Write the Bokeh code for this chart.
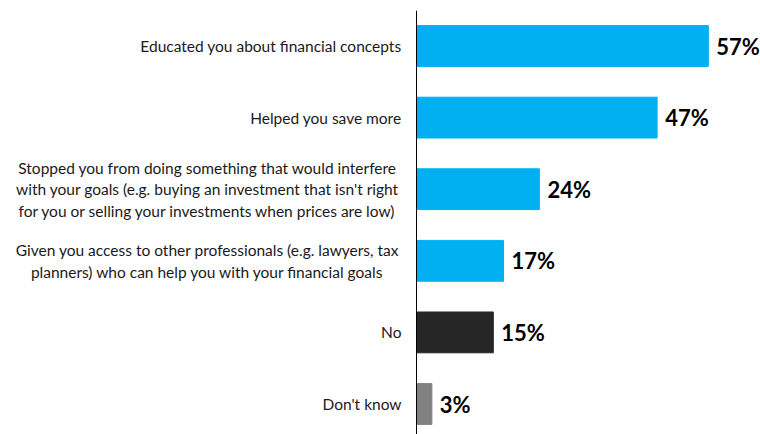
from bokeh.plotting import figure
from bokeh.models import Range1d, Span, ColumnDataSource
from bokeh.core.properties import value
from bokeh.embed import file_html
from bokeh.resources import INLINE

categories = [
    "Educated you about financial concepts",
    "Helped you save more",
    "Stopped you from doing something that would interfere\nwith your goals (e.g. buying an investment that isn't right\nfor you or selling your investments when prices are low)",
    "Given you access to other professionals (e.g. lawyers, tax\nplanners) who can help you with your financial goals",
    "No",
    "Don't know",
]
values = [57, 47, 24, 17, 15, 3]
value_labels = ["57%", "47%", "24%", "17%", "15%", "3%"]
colors = ["#00B0F0", "#00B0F0", "#00B0F0", "#00B0F0", "#262626", "#808080"]

W, H = 760, 434
px_per_unit = 5.12
axis_px = 416
row_px = 71.6
top_px = 10
first_center_off = 35.5

ypos = list(range(len(categories)))
y_top = -first_center_off / row_px
y_bot = y_top + (H - top_px) / row_px

p = figure(width=W, height=H, output_backend="svg", toolbar_location=None,
           x_range=Range1d(-axis_px / px_per_unit, (W - axis_px) / px_per_unit),
           y_range=Range1d(y_bot, y_top),
           min_border_left=0, min_border_right=0, min_border_top=top_px, min_border_bottom=0)
p.axis.visible = False
p.grid.visible = False
p.outline_line_color = None
p.background_fill_color = "white"
p.border_fill_color = "white"

src = ColumnDataSource(dict(y=ypos, v=values, lab=value_labels, c=colors, cat=categories))
p.hbar(y="y", left=0, right="v", height=0.57, color="c", source=src)

p.add_layout(Span(location=0, dimension="height", line_color="black", line_width=1))

p.text(x="v", y="y", text="lab", source=src, x_offset=8, text_baseline="middle",
       text_align="left", text_font=value("Lato"), text_font_style="bold",
       text_font_size="22px", text_color="black")

single = [i for i, c in enumerate(categories) if "\n" not in c]
multi = [i for i, c in enumerate(categories) if "\n" in c]

s1 = ColumnDataSource(dict(y=[ypos[i] for i in single], t=[categories[i] for i in single],
                           x=[0] * len(single)))
s2 = ColumnDataSource(dict(y=[ypos[i] for i in multi], t=[categories[i] for i in multi],
                           x=[0] * len(multi)))
p.text(x="x", y="y", text="t", source=s1, x_offset=-15, text_align="right",
       text_baseline="middle", text_font=value("Lato"), text_font_size="15.5px",
       text_color="#1a1a1a")
p.text(x="x", y="y", text="t", source=s2, x_offset=-209, text_align="center",
       text_baseline="middle", text_font=value("Lato"), text_font_size="15.5px",
       text_color="#1a1a1a", text_line_height=1.2)

open("out.html", "w").write(file_html(p, INLINE))
